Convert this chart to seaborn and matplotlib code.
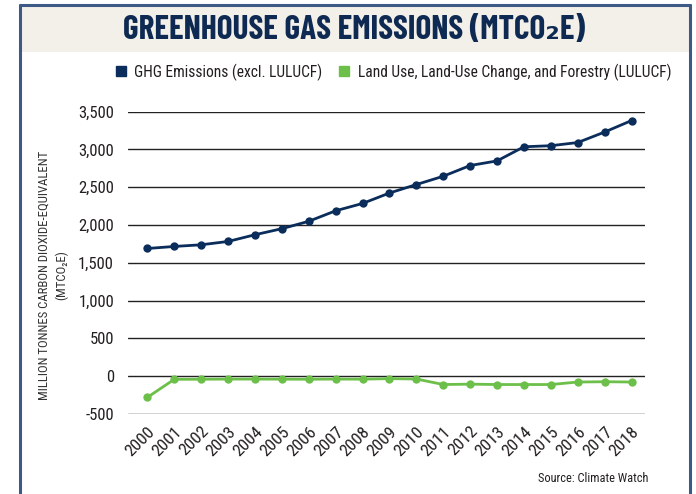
import pandas as pd
import numpy as np
import matplotlib
matplotlib.use("Agg")
import matplotlib.pyplot as plt
import matplotlib.transforms as mtransforms
from matplotlib.patches import Rectangle
from matplotlib.lines import Line2D
import seaborn as sns

# dados (MtCO2e)
anos = [str(a) for a in range(2000, 2019)]
ghg = [1690, 1717, 1739, 1783, 1872, 1952, 2050, 2189, 2286, 2424,
       2536, 2646, 2788, 2849, 3036, 3050, 3092, 3231, 3383]
lulucf = [-280, -41, -40, -38, -38, -39, -40, -38, -39, -32,
          -37, -110, -105, -110, -110, -110, -77, -73, -77]
series_names = ["GHG Emissions (excl. LULUCF)",
                "Land Use, Land-Use Change, and Forestry (LULUCF)"]
y_ticks = [-500, 0, 500, 1000, 1500, 2000, 2500, 3000, 3500]

navy = "#0b2d5b"
green = "#6cc04a"
txt = "#231f20"

df = pd.DataFrame({
    "ano": anos * 2,
    "valor": ghg + lulucf,
    "serie": [series_names[0]] * len(anos) + [series_names[1]] * len(anos),
})
df["x"] = df["ano"].map({a: i for i, a in enumerate(anos)})

sns.set_style("white")
plt.rcParams["font.family"] = ["Roboto Condensed", "Barlow Condensed", "DejaVu Sans"]

fig = plt.figure(figsize=(6.96, 4.94), dpi=100)
W, H = 696, 494

# moldura e faixa do título
fig.patches.append(Rectangle((20 / W, 1 - 52 / H), 670 / W, 47 / H,
                             transform=fig.transFigure, facecolor="#f3f0e9",
                             edgecolor="none", zorder=0))
for xs, ys in [([20, 20], [5, 494]), ([20, 690], [5, 5]), ([690, 690], [5, 494])]:
    fig.lines.append(Line2D([x / W for x in xs], [1 - y / H for y in ys],
                            transform=fig.transFigure, color="#3d5a86", lw=2.2))

fig.text(354 / W, 1 - 30 / H, "GREENHOUSE GAS EMISSIONS (MTCO\u2082E)",
         ha="center", va="center", fontsize=24, fontweight="bold", color="#0e2a52",
         family=["Barlow Condensed", "DejaVu Sans"])

ax = fig.add_axes([128 / W, 1 - 414 / H, (645 - 128) / W, (414 - 111.7) / H])
sns.lineplot(data=df, x="x", y="valor", hue="serie",
             palette=[navy, green], marker="o", markersize=6,
             markeredgewidth=0, linewidth=2, legend=False, ax=ax)

for t in y_ticks:
    ax.axhline(t, color="#222222", lw=1.0, zorder=0)

ax.set_ylim(-500, 3500)
ax.set_xlim(-0.72, 18.5)
ax.set_yticks(y_ticks)
ax.set_yticklabels([f"{t:,}" for t in y_ticks], fontsize=12, color=txt)
ax.set_xticks(range(len(anos)))
ax.set_xticklabels(anos, rotation=45, ha="right", rotation_mode="anchor",
                   fontsize=12.5, color=txt)
shift = mtransforms.ScaledTranslation(6 / 100, 0, fig.dpi_scale_trans)
for lab in ax.get_xticklabels():
    lab.set_transform(lab.get_transform() + shift)
ax.tick_params(axis="y", length=0, pad=10)
ax.tick_params(axis="x", length=0, pad=7)
ax.set_xlabel("")
ax.set_ylabel("")
sns.despine(ax=ax, left=True, bottom=True)

fig.text(53 / W, 1 - 275 / H, "MILLION TONNES CARBON DIOXIDE-EQUIVALENT\n(MTCO\u2082E)",
         rotation=90, ha="center", va="center", multialignment="center",
         fontsize=9.2, color="#333333", linespacing=1.45)

# legenda
handles = [Line2D([], [], marker="s", ls="none", color=c, markersize=7.5) for c in [navy, green]]
fig.legend(handles, series_names, loc="center", bbox_to_anchor=(393 / W, 1 - 72 / H),
           ncol=2, frameon=False, fontsize=11.2, handlelength=0.8, handletextpad=0.45,
           columnspacing=1.0, labelcolor=txt, borderaxespad=0, borderpad=0)

fig.text(648 / W, 1 - 478 / H, "Source: Climate Watch", ha="right", va="center",
         fontsize=8.9, color=txt)

fig.savefig("out.png", dpi=100)
